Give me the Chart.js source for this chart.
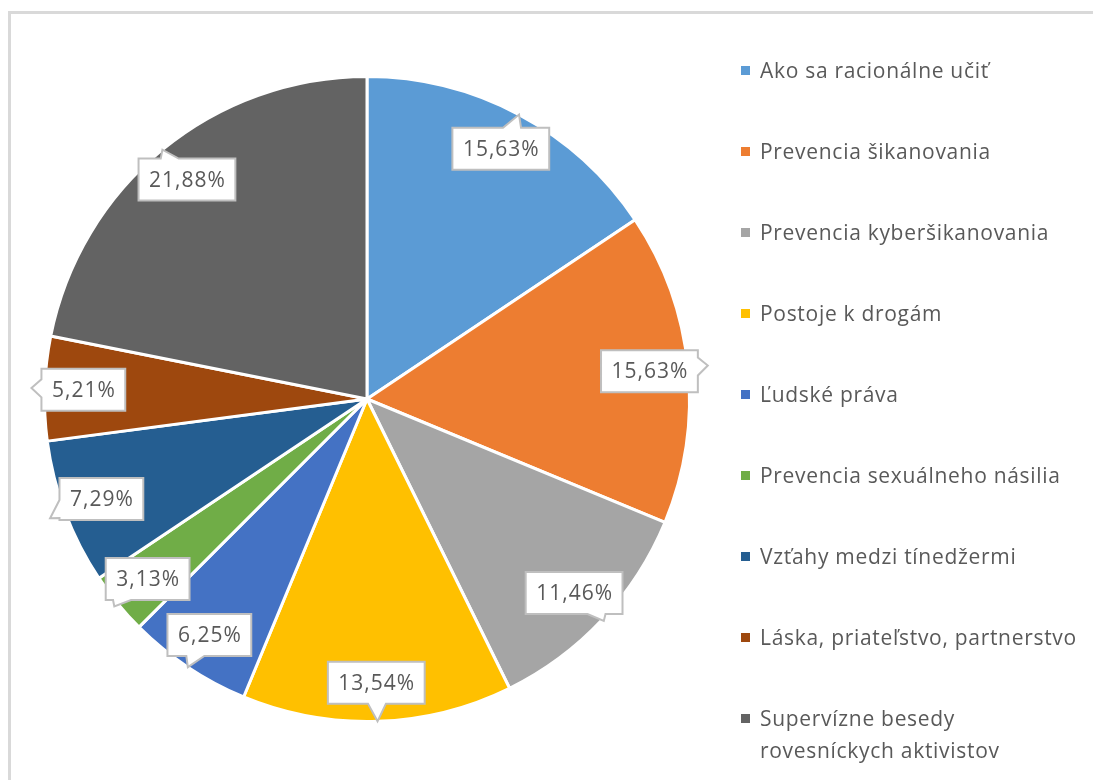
<!DOCTYPE html>
<html>
<head>
<meta charset="utf-8">
<script src="https://cdn.jsdelivr.net/npm/chart.js@4.4.0/dist/chart.umd.min.js"></script>
<style>
    html, body { margin: 0; padding: 0; background: #fff; overflow: hidden; }
    #frame { position: absolute; left: 8px; top: 11px; width: 1200px; height: 900px; border: 3px solid #d9d9d9; box-sizing: border-box; }
    #chartBox { position: absolute; left: 0; top: 0; width: 1093px; height: 780px; }
    #legend { position: absolute; left: 741px; top: 54px; font-family: "Open Sans", Lato, sans-serif; font-size: 21px; letter-spacing: 0.7px; color: #595959; }
    .item { display: flex; align-items: flex-start; height: 81px; }
    .mark { width: 9px; height: 9px; margin-top: 12px; margin-right: 10px; flex: none; }
    .txt { line-height: 32px; white-space: nowrap; }
</style>
</head>
<body>
<div id="frame"></div>
<div id="chartBox"><canvas id="pieChart" width="1093" height="780"></canvas></div>
<div id="legend"></div>
<script>
const labels = [
    "Ako sa racionálne učiť",
    "Prevencia šikanovania",
    "Prevencia kyberšikanovania",
    "Postoje k drogám",
    "Ľudské práva",
    "Prevencia sexuálneho násilia",
    "Vzťahy medzi tínedžermi",
    "Láska, priateľstvo, partnerstvo",
    ["Supervízne besedy", "rovesníckych aktivistov"]
];
const shares = [15.63, 15.63, 11.46, 13.54, 6.25, 3.13, 7.29, 5.21, 21.88];
const colors = ["#5b9bd5", "#ed7d31", "#a5a5a5", "#ffc000", "#4472c4", "#70ad47", "#255e91", "#9e480e", "#636363"];

// Legend (HTML so the last label can wrap on two lines)
const legendEl = document.getElementById("legend");
labels.forEach((lab, i) => {
    const item = document.createElement("div");
    item.className = "item";
    const mark = document.createElement("div");
    mark.className = "mark";
    mark.style.background = colors[i];
    const txt = document.createElement("div");
    txt.className = "txt";
    const lines = Array.isArray(lab) ? lab : [lab];
    lines.forEach((line, j) => {
        if (j > 0) txt.appendChild(document.createElement("br"));
        txt.appendChild(document.createTextNode(line));
    });
    item.appendChild(mark);
    item.appendChild(txt);
    legendEl.appendChild(item);
});

function clamp(v, lo, hi) {
    return Math.max(lo, Math.min(hi, v));
}

// rectangle with a small wedge pointing at (tx, ty)
function calloutPath(ctx, left, top, w, h, tx, ty) {
    const right = left + w, bottom = top + h;
    const cx = left + w / 2, cy = top + h / 2;
    const dx = tx - cx, dy = ty - cy;
    const sx = dx !== 0 ? (w / 2) / Math.abs(dx) : Infinity;
    const sy = dy !== 0 ? (h / 2) / Math.abs(dy) : Infinity;
    const half = 9;
    const onH = sy <= sx;
    const px = clamp(cx + dx * (onH ? sy : sx), left + half + 2, right - half - 2);
    const py = clamp(cy + dy * (onH ? sy : sx), top + half + 2, bottom - half - 2);

    ctx.beginPath();
    ctx.moveTo(left, top);
    if (onH && dy < 0) {
        ctx.lineTo(px - half, top); ctx.lineTo(tx, ty); ctx.lineTo(px + half, top);
    }
    ctx.lineTo(right, top);
    if (!onH && dx > 0) {
        ctx.lineTo(right, py - half); ctx.lineTo(tx, ty); ctx.lineTo(right, py + half);
    }
    ctx.lineTo(right, bottom);
    if (onH && dy > 0) {
        ctx.lineTo(px + half, bottom); ctx.lineTo(tx, ty); ctx.lineTo(px - half, bottom);
    }
    ctx.lineTo(left, bottom);
    if (!onH && dx < 0) {
        ctx.lineTo(left, py + half); ctx.lineTo(tx, ty); ctx.lineTo(left, py - half);
    }
    ctx.closePath();
}

const calloutLabels = {
    id: "calloutLabels",
    afterDatasetsDraw(chart) {
        const ctx = chart.ctx;
        const meta = chart.getDatasetMeta(0);
        ctx.save();
        ctx.font = '21px "Open Sans", Lato, sans-serif';
        ctx.letterSpacing = "1px";
        meta.data.forEach((arc, i) => {
            const p = arc.getProps(["x", "y", "startAngle", "endAngle", "outerRadius"], true);
            const mid = (p.startAngle + p.endAngle) / 2;
            const text = shares[i].toFixed(2).replace(".", ",") + "%";
            const w = ctx.measureText(text).width + 20;
            const h = 42;
            const cx = p.x + Math.cos(mid) * p.outerRadius * 0.88;
            const cy = p.y + Math.sin(mid) * p.outerRadius * 0.88;
            let tx = p.x + Math.cos(mid) * p.outerRadius;
            let ty = p.y + Math.sin(mid) * p.outerRadius;

            // keep the wedge visible outside the box
            const dx = tx - cx, dy = ty - cy;
            const len = Math.hypot(dx, dy);
            const s = Math.min((w / 2) / Math.abs(dx || 1e-6), (h / 2) / Math.abs(dy || 1e-6));
            const edge = len * s;
            if (len < edge + 10) {
                tx = cx + dx / len * (edge + 10);
                ty = cy + dy / len * (edge + 10);
            }

            calloutPath(ctx, cx - w / 2, cy - h / 2, w, h, tx, ty);
            ctx.fillStyle = "#ffffff";
            ctx.fill();
            ctx.lineWidth = 2;
            ctx.strokeStyle = "#bfbfbf";
            ctx.lineJoin = "miter";
            ctx.stroke();

            ctx.fillStyle = "#595959";
            ctx.textAlign = "center";
            ctx.textBaseline = "middle";
            ctx.fillText(text, cx + 0.5, cy + 1);
        });
        ctx.restore();
    }
};

new Chart(document.getElementById("pieChart"), {
    type: "pie",
    data: {
        labels: labels,
        datasets: [
            {
                data: shares,
                backgroundColor: colors,
                borderColor: "#ffffff",
                borderWidth: 3,
            },
        ],
    },
    options: {
        responsive: false,
        animation: false,
        layout: {
            padding: { left: 0, right: 359, top: 75, bottom: 57 },
        },
        plugins: {
            legend: { display: false },
            tooltip: { enabled: false },
        },
    },
    plugins: [calloutLabels],
});
</script>
</body>
</html>
